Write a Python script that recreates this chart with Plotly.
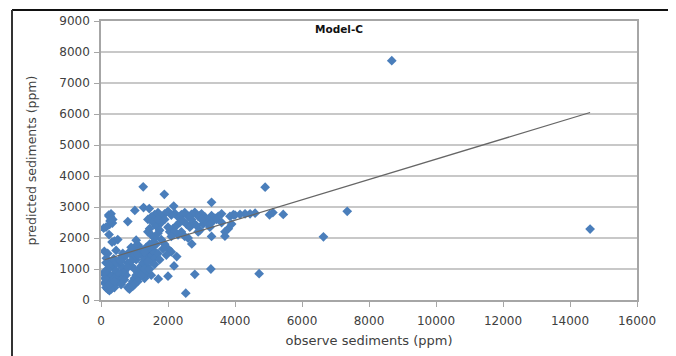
import plotly.graph_objects as go

# ---- data ----
observed = [
    8680, 14600, 7350, 6640, 5440, 4900, 5030, 5130, 4720, 3280, 2530, 2800, 2000, 1710,
    1260, 1890, 3300, 2170, 1270, 1440, 1010, 800, 80, 240, 100, 230, 280, 300, 340, 260,
    2260, 2180, 2710, 3300, 3700, 400, 500, 330, 450, 380, 200, 1050, 1100, 1000, 1200,
    3800, 3900, 3700, 4600, 4450, 4300, 4150, 4000, 3850, 3950, 3600, 3500, 3400, 3300,
    3200, 3100, 3000, 2900, 2800, 2700, 2600, 2500, 2400, 2300, 2200, 2100, 2000, 1900,
    1800, 1700, 1600, 1500, 1400, 1550, 1650, 1750, 1450, 1400, 1500, 1600, 1700, 1800,
    1900, 2000, 2100, 1950, 2050, 2150, 2250, 2350, 2450, 2550, 2650, 2750, 2850, 2950,
    3050, 3150, 3250, 3350, 3450, 2300, 2400, 2500, 2600, 2200, 2100, 2000, 2400, 2700,
    3000, 3600, 2900, 3250, 1800, 1700, 1900,
    100, 150, 200, 250, 300, 200, 120, 180, 250, 300, 350, 400, 450, 500, 550, 600, 650,
    700, 750, 800, 850, 900, 950, 1000, 1050, 1100, 1150, 1200, 1250, 1300, 1350, 1400,
    1450, 1500, 1550, 1600, 1350, 1250, 1150, 1300, 1400, 1200, 1000, 900, 800, 700, 600,
    500, 400, 300, 200, 150, 350, 450, 550, 650, 750, 850, 950, 1050, 1150, 1250, 1350,
    1450, 1550, 1050, 900, 700, 600, 400, 300, 250, 1100, 1000, 950, 1300, 1500, 1600,
    1700, 1850, 1500, 1450, 240, 300, 350, 270, 150, 1350, 1450, 1550, 1250, 1400,
    120, 180, 220, 160, 100, 600, 800, 1100, 1300, 1650, 1750, 1600, 400, 650, 900,
]
predicted = [
    7720, 2290, 2860, 2040, 2760, 3640, 2750, 2820, 850, 1000, 220, 830, 770, 680,
    3650, 3410, 3150, 3030, 2980, 2950, 2890, 2530, 2320, 2110, 1570, 2740, 2700, 2580, 2480, 2440,
    1400, 1100, 1810, 2050, 2060, 1900, 1950, 1870, 1600, 1330, 1500, 1930, 1780, 1700, 1650,
    2300, 2450, 2200, 2800, 2780, 2780, 2760, 2740, 2700, 2750, 2780, 2700, 2640, 2720,
    2600, 2680, 2780, 2700, 2830, 2760, 2700, 2820, 2750, 2680, 2800, 2740, 2860, 2780,
    2700, 2820, 2750, 2680, 2600, 2500, 2380, 2250, 2300, 2200, 2100, 2000, 2150, 1950,
    1800, 1650, 1550, 1450, 2200, 2300, 2400, 2500, 2550, 2450, 2350, 2500, 2400, 2250,
    2450, 2500, 2350, 2550, 2600, 2100, 2200, 2050, 2000, 2200, 2050, 2350, 2600, 2600,
    2600, 2500, 2200, 2450, 2500, 2600, 2600,
    550, 400, 350, 300, 450, 600, 800, 900, 750, 650, 800, 700, 550, 600, 750, 850, 700,
    900, 800, 400, 350, 500, 600, 700, 800, 900, 1000, 1100, 1200, 1300, 1400, 1500,
    1350, 1450, 1600, 1550, 1100, 900, 750, 700, 850, 800, 1000, 1100, 1200, 1000, 1100,
    900, 1000, 1100, 1000, 1200, 1250, 1200, 1300, 1350, 1450, 1550, 1400, 1300, 1500, 1600, 1700,
    1800, 1750, 1550, 1250, 650, 500, 400, 350, 500, 600, 500, 450, 1000, 1250, 1350,
    1500, 1650, 800, 1000, 2700, 2780, 2600, 2550, 2350, 1600, 1700, 1850, 1400, 1250,
    700, 950, 1150, 1350, 900, 1250, 1050, 1450, 1550, 1800, 1300, 1150, 600, 1500, 1700,
]
trend_x = [110, 14600]
trend_y = [1300, 6050]

x_ticks = [0, 2000, 4000, 6000, 8000, 10000, 12000, 14000, 16000]
y_ticks = [0, 1000, 2000, 3000, 4000, 5000, 6000, 7000, 8000, 9000]

FONT = "DejaVu Sans"
TXT = "#404040"

# the page adds an 8px body margin, so the figure is drawn 8px smaller and
# all page positions are shifted by -8
OFF = 8
W, H = 676 - OFF, 356 - OFF
PL, PR, PT, PB = 101 - OFF, 637 - OFF, 21 - OFF, 300 - OFF

fig = go.Figure()
fig.add_trace(go.Scatter(
    x=observed, y=predicted, mode="markers",
    marker=dict(symbol="diamond", size=7.5, color="#4a7ebb", line=dict(width=0)),
    showlegend=False, hoverinfo="x+y",
))
fig.add_trace(go.Scatter(
    x=trend_x, y=trend_y, mode="lines",
    line=dict(color="#666666", width=1.2), showlegend=False, hoverinfo="skip",
))


def px_x(px):
    return (px - OFF - PL) / float(PR - PL)


def px_y(py):
    return (PB - (py - OFF)) / float(PB - PT)


shapes = [
    dict(type="line", xref="paper", yref="paper", x0=px_x(12), x1=px_x(670), y0=px_y(10), y1=px_y(10),
         line=dict(color="#111111", width=2)),
    dict(type="line", xref="paper", yref="paper", x0=px_x(12), x1=px_x(12), y0=px_y(10), y1=px_y(360),
         line=dict(color="#333333", width=2)),
    dict(type="line", xref="paper", yref="paper", x0=px_x(669), x1=px_x(669), y0=px_y(10), y1=px_y(360),
         line=dict(color="#cccccc", width=1.5)),
]

fig.update_layout(
    width=W, height=H,
    margin=dict(l=PL, r=W - PR, t=PT, b=H - PB, autoexpand=False),
    paper_bgcolor="white", plot_bgcolor="white",
    font=dict(family=FONT, size=12, color=TXT),
    shapes=shapes,
    annotations=[dict(text="<b>Model-C</b>", xref="paper", yref="paper",
                      x=px_x(339), y=px_y(29), xanchor="center", yanchor="middle",
                      showarrow=False,
                      font=dict(family=FONT, size=10.5, color="#111111"))],
)
fig.update_xaxes(
    range=[0, 16000], tickvals=x_ticks, ticktext=[str(v) for v in x_ticks],
    showgrid=False, zeroline=False, automargin=False,
    showline=True, linecolor="#a6a6a6", linewidth=1.5, mirror=True,
    ticks="outside", ticklen=5, tickcolor="#a6a6a6", ticklabelstandoff=4,
    tickfont=dict(family=FONT, size=12, color=TXT),
    title=dict(text="observe sediments (ppm)", standoff=9,
               font=dict(family=FONT, size=13, color=TXT)),
)
fig.update_yaxes(
    range=[0, 9000], tickvals=y_ticks, ticktext=[str(v) for v in y_ticks],
    showgrid=True, gridcolor="#c8c8c8", gridwidth=1.5, zeroline=False, automargin=False,
    showline=True, linecolor="#a6a6a6", linewidth=1.5, mirror=True,
    ticks="outside", ticklen=5, tickcolor="#a6a6a6", ticklabelstandoff=2,
    tickfont=dict(family=FONT, size=12, color=TXT),
    title=dict(text="predicted sediments (ppm)", standoff=20,
               font=dict(family=FONT, size=12.5, color=TXT)),
)

fig.write_html("out.html")
